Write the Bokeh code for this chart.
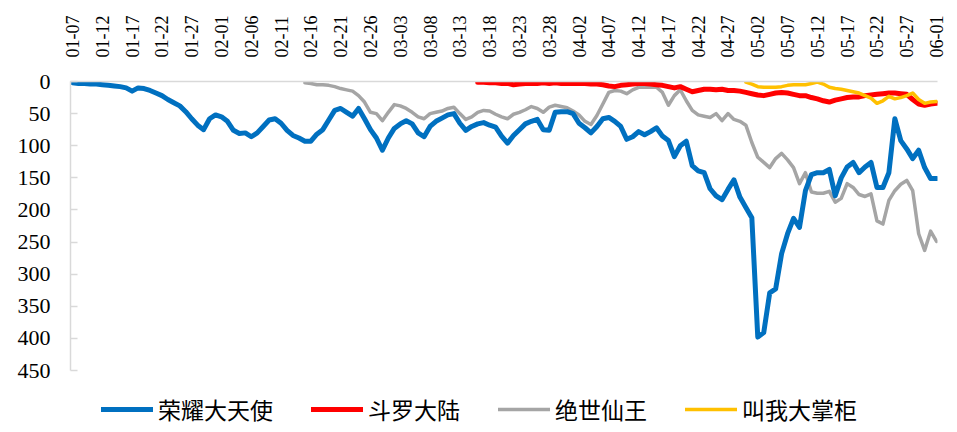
import numpy as np
import pandas as pd
from bokeh.plotting import figure
from bokeh.models import Range1d, FixedTicker, Legend, LegendItem
from bokeh.embed import file_html
from bokeh.resources import INLINE

# ---------------- data ----------------
dates = pd.date_range("2021-01-07", "2021-06-01", freq="D")
date_labels = [d.strftime("%m-%d") for d in dates]
tick_step = 5

series_names = ["荣耀大天使", "斗罗大陆", "绝世仙王", "叫我大掌柜"]
series_colors = ["#0070C0", "#FF0000", "#A5A5A5", "#FFC000"]

# 荣耀大天使 from 01-07
blue_start = "01-07"
blue = [2, 3, 3, 4, 4, 5, 6, 7, 8, 10,
        15, 10, 11, 14, 18, 22, 28, 33, 38, 47,
        58, 68, 75, 58, 52, 55, 62, 76, 81, 80,
        86, 80, 70, 60, 58, 65, 76, 84, 88, 93,
        93, 82, 75, 60, 45, 42, 48, 54, 42, 58,
        75, 88, 107, 88, 73, 66, 61, 66, 80, 86,
        70, 62, 57, 52, 50, 65, 76, 70, 66, 64,
        68, 71, 85, 96, 84, 75, 66, 62, 59, 75,
        76, 48, 47, 47, 50, 65, 72, 80, 70, 58,
        56, 62, 70, 90, 86, 78, 83, 78, 72, 85,
        92, 117, 100, 93, 131, 139, 142, 167, 178, 184,
        168, 153, 180, 196, 212, 398, 391, 329, 323, 268,
        237, 213, 227, 170, 145, 142, 142, 137, 178, 150,
        133, 126, 142, 133, 126, 165, 165, 142, 58, 92,
        105, 120, 107, 134, 151, 151]

# 斗罗大陆 from 03-16
red_start = "03-16"
red = [1, 1, 2, 2, 3, 3, 5, 4, 3, 3,
       3, 2, 3, 2, 3, 3, 3, 3, 3, 4,
       4, 5, 7, 8, 6, 5, 4, 3, 3, 4,
       5, 6, 8, 10, 8, 12, 16, 14, 12, 12,
       13, 12, 14, 14, 15, 17, 19, 21, 22, 20,
       18, 17, 18, 20, 22, 22, 25, 27, 30, 32,
       29, 27, 25, 24, 24, 22, 21, 20, 19, 18,
       18, 19, 20, 28, 35, 37, 35, 34]

# 绝世仙王 from 02-15
grey_start = "02-15"
grey = [2, 3, 5, 5, 6, 8, 11, 13, 15, 22,
        32, 48, 50, 61, 48, 36, 38, 42, 48, 55,
        58, 50, 48, 46, 42, 40, 50, 59, 55, 48,
        45, 46, 51, 55, 58, 51, 48, 44, 39, 42,
        48, 40, 37, 39, 41, 46, 52, 62, 67, 53,
        35, 17, 14, 15, 19, 13, 9, 9, 9, 9,
        17, 37, 22, 13, 30, 45, 52, 54, 56, 50,
        61, 50, 59, 62, 68, 95, 118, 126, 134, 120,
        112, 122, 134, 159, 142, 172, 174, 174, 171, 188,
        182, 159, 165, 176, 179, 175, 217, 222, 185, 170,
        160, 154, 170, 237, 263, 233, 249]

# 叫我大掌柜 from 04-30
yellow_start = "04-30"
yellow = [1, 4, 8, 9, 9, 9, 8, 6, 5, 5,
          5, 3, 1, 4, 9, 11, 12, 14, 16, 18,
          22, 26, 34, 30, 23, 27, 25, 22, 18, 28,
          34, 32, 31]

y_ticks = list(range(0, 451, 50))

# ---------------- figure ----------------
n_days = len(date_labels)
p = figure(width=957, height=432, output_backend="svg", toolbar_location=None,
           x_range=Range1d(-0.34, n_days - 1 + 0.16),
           y_range=Range1d(546.5, 0),
           x_axis_location="above",
           min_border_left=70, min_border_right=20,
           min_border_top=81, min_border_bottom=0)
p.outline_line_color = None
p.xgrid.visible = False
p.ygrid.visible = False
p.background_fill_color = "white"
p.border_fill_color = "white"

def xs_for(start, vals):
    i0 = date_labels.index(start)
    return list(range(i0, i0 + len(vals)))

widths = [5, 5, 3.5, 3.5]
data_sets = [(blue_start, blue), (red_start, red), (grey_start, grey), (yellow_start, yellow)]
order = [2, 0, 1, 3]
rmap = {}
for k in order:
    start, vals = data_sets[k]
    r = p.line(xs_for(start, vals), vals, line_color=series_colors[k],
               line_width=widths[k], line_join="round", line_cap="round")
    rmap[k] = r

# x axis (above)
xa = p.xaxis[0]
xa.ticker = FixedTicker(ticks=list(range(0, n_days, tick_step)))
xa.major_label_overrides = {i: date_labels[i] for i in range(0, n_days, tick_step)}
xa.major_label_orientation = np.pi / 2
xa.major_tick_in = 0
xa.major_tick_out = 0
xa.minor_tick_line_color = None
xa.axis_line_color = "#D9D9D9"
xa.axis_line_width = 1.5
xa.major_label_standoff = 24
xa.major_label_text_font = "Liberation Serif"
xa.major_label_text_font_size = "18px"
xa.major_label_text_color = "black"

# y axis
ya = p.yaxis[0]
ya.ticker = FixedTicker(ticks=y_ticks)
ya.bounds = (0, 450)
ya.axis_line_color = "#D9D9D9"
ya.axis_line_width = 1.5
ya.major_tick_in = 7
ya.major_tick_out = 0
ya.major_tick_line_color = "#D9D9D9"
ya.major_tick_line_width = 1.5
ya.minor_tick_line_color = None
ya.major_label_standoff = 20
ya.major_label_text_font = "Liberation Serif"
ya.major_label_text_font_size = "22px"
ya.major_label_text_color = "black"

legend = Legend(items=[LegendItem(label=series_names[k], renderers=[rmap[k]]) for k in range(4)],
                location=(31, 6), orientation="horizontal",
                glyph_width=52, glyph_height=20, label_standoff=5, spacing=38,
                padding=0, margin=0, border_line_color=None, background_fill_alpha=0,
                label_text_font="Noto Sans CJK SC", label_text_font_size="23px",
                label_text_color="black", label_height=22)
p.add_layout(legend)

open("out.html", "w").write(file_html(p, INLINE))
